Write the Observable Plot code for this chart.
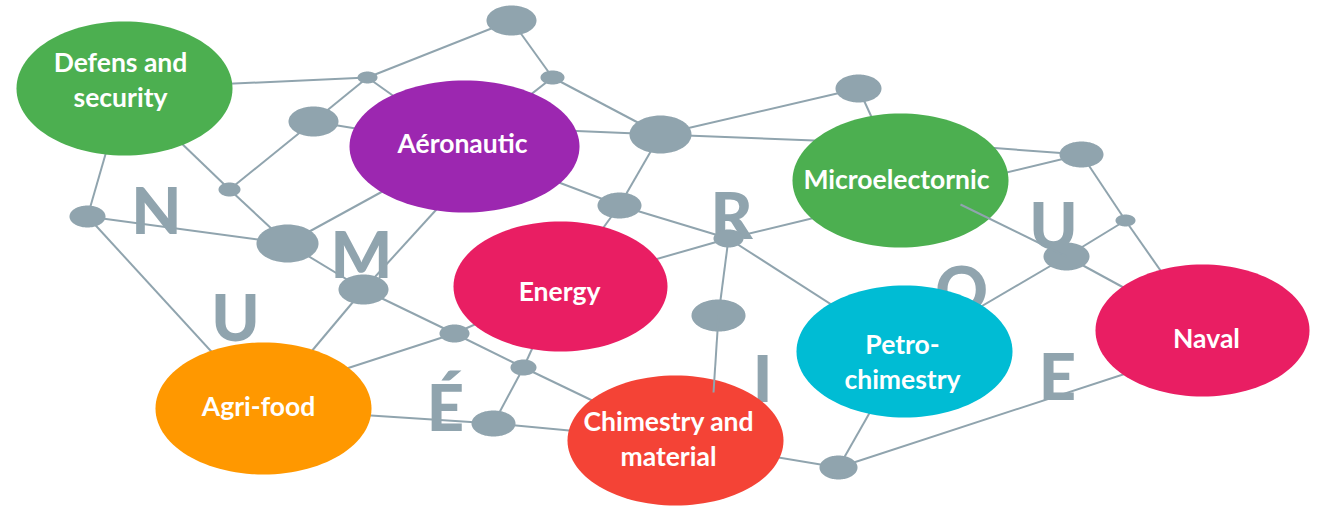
<!DOCTYPE html>
<html><head><meta charset="utf-8">
<script src="https://cdn.jsdelivr.net/npm/d3@7"></script>
<script src="https://cdn.jsdelivr.net/npm/@observablehq/plot@0.6"></script>
<style>html,body{margin:0;padding:0;background:#fff;} svg{display:block}</style>
</head><body><div id="chart"></div>
<script>
// ---- Sector ellipses ----
const sectorNames  = ["Defens","Aero","Micro","Energy","Agri","Chim","Petro","Naval"];
const sectorLabels = ["Defens and\nsecurity","Aéronautic","Microelectornic","Energy","Agri-food","Chimestry and\nmaterial","Petro-\nchimestry","Naval"];
const sectorX  = [124, 464, 900, 560, 263, 675, 904, 1202];
const sectorY  = [88, 146, 180, 286, 408, 440, 351, 330];
const sectorRx = [108, 115, 108, 107, 108, 108, 108, 107];
const sectorRy = [67, 66, 67, 65, 66, 65, 66, 66];
const labelX   = [120, 462, 896, 559, 258, 668, 902, 1206];
const labelY   = [106, 152, 188, 300, 415, 465, 388, 347];
const sectorColor = {Defens:"#4CAF50", Aero:"#9C27B0", Micro:"#4CAF50", Energy:"#E91E63",
                     Agri:"#FF9800", Chim:"#F44336", Petro:"#00BCD4", Naval:"#E91E63"};

// ---- Grey hub nodes ----
const hubNames = ["n1","n2","n3","n4","n5","n6","n7","n8","n9","n10","n11","n12","n13","n14","n15","n16","n17","n18","n19","n20"];
const hubX  = [511, 552, 660, 858, 1081, 1125, 1066, 367, 313, 229, 87, 287, 363, 454, 523, 493, 619, 728, 718, 838];
const hubY  = [20, 77, 134, 88, 154, 220, 256, 77, 121, 189, 216, 243, 289, 333, 367, 423, 205, 238, 315, 467];
const hubRx = [25, 12, 31, 23, 22, 10, 23, 10, 25, 11, 18, 31, 25, 15, 13, 22, 22, 15, 27, 19];
const hubRy = [15, 7, 19, 14, 13, 6, 14, 6, 15, 7, 11, 19, 15, 9, 8, 13, 13, 9, 16, 12];

// ---- Connection points on the sector ellipses ----
const portNames = ["aeroM","aeroC","microC","microR","microE1","microE2","microG","agriN","navalT","chimS"];
const portX = [445, 540, 840, 840, 960, 960, 960, 300, 1150, 713];
const portY = [199, 129, 141, 211, 145, 183, 204, 383, 365, 392];

// ---- Links (drawn beneath the ellipses) ----
const edgeFrom = ["Defens","n8","n8","n8","n9","n9","Defens","n10","Defens","n11","n11","n12","n12","n13","n13","n13","agriN","n14","n14","n15","n15","n15","Agri","n16",
                  "aeroC","n2","n1","n2","n3","n3","n3","Aero","n17","n17","n18","n18","n18","n18","n4","microE1","microE2","n5","n6","n6","n7","n7","Petro","Chim","n20"];
const edgeTo   = ["n8","n1","n9","Aero","Aero","n10","n10","n12","n11","n12","Agri","Aero","n13","aeroM","Agri","n14","n14","Energy","n15","Energy","n16","Chim","n16","Chim",
                  "n3","Aero","n2","n3","n4","microC","n17","n17","Energy","n18","microR","Energy","n19","Petro","Micro","n5","n5","n6","Naval","n7","Naval","Petro","n20","n20","navalT"];
// ---- Links drawn over the ellipses ----
const overFrom = ["n19","microG"];
const overTo   = ["chimS","n7"];

// ---- Big background letters ----
const letters = ["N","U","M","É","R","I","Q","U","E"];
const letterX = [156, 235, 361, 445, 731, 762, 961, 1053, 1057];
const letterY = [233, 340, 277, 430, 238, 401, 312, 248, 399];

const GREY = "#90A4AE";

// lookup of positions
const pos = new Map();
sectorNames.forEach((n,i)=>pos.set(n,[sectorX[i],sectorY[i]]));
hubNames.forEach((n,i)=>pos.set(n,[hubX[i],hubY[i]]));
portNames.forEach((n,i)=>pos.set(n,[portX[i],portY[i]]));
const toLinks = (f,t)=>f.map((a,i)=>({x1:pos.get(a)[0],y1:pos.get(a)[1],x2:pos.get(t[i])[0],y2:pos.get(t[i])[1]}));
const links = toLinks(edgeFrom, edgeTo);
const overLinks = toLinks(overFrom, overTo);

function ellipseRing(id, cx, cy, rx, ry, color){
  const pts=[]; const N=120;
  for(let k=0;k<N;k++){const t=2*Math.PI*k/N; pts.push({id, color, x:cx+rx*Math.cos(t), y:cy+ry*Math.sin(t)});}
  return pts;
}
const sectorShapes = sectorNames.flatMap((n,i)=>ellipseRing(n,sectorX[i],sectorY[i],sectorRx[i],sectorRy[i],sectorColor[n]));
const hubShapes = hubNames.flatMap((n,i)=>ellipseRing(n,hubX[i],hubY[i],hubRx[i],hubRy[i],GREY));

const labelRows = sectorLabels.map((t,i)=>({t,x:labelX[i],y:labelY[i]}));
const letterRows = letters.map((t,i)=>({t,x:letterX[i],y:letterY[i]}));

const chart = Plot.plot({
  width:1319, height:506, margin:0,
  x:{domain:[0,1319], axis:null},
  y:{domain:[0,506], reverse:true, axis:null},
  color:{type:"identity"},
  style:{background:"#fff"},
  marks:[
    Plot.link(links,{x1:"x1",y1:"y1",x2:"x2",y2:"y2",stroke:GREY,strokeWidth:2}),
    Plot.text(letterRows,{x:"x",y:"y",text:"t",fill:GREY,fontSize:65,fontWeight:900,fontFamily:"Lato",textAnchor:"middle",lineAnchor:"bottom"}),
    Plot.line(sectorShapes,{x:"x",y:"y",z:"id",fill:"color",stroke:"none",curve:"linear-closed"}),
    Plot.line(hubShapes,{x:"x",y:"y",z:"id",fill:"color",stroke:"none",curve:"linear-closed"}),
    Plot.link(overLinks,{x1:"x1",y1:"y1",x2:"x2",y2:"y2",stroke:GREY,strokeWidth:2}),
    Plot.text(labelRows,{x:"x",y:"y",text:"t",fill:"#fff",fontSize:26.5,fontWeight:"bold",fontFamily:"Lato",textAnchor:"middle",lineAnchor:"bottom",lineHeight:1.32})
  ]
});
document.getElementById("chart").appendChild(chart);
</script>
</body></html>
